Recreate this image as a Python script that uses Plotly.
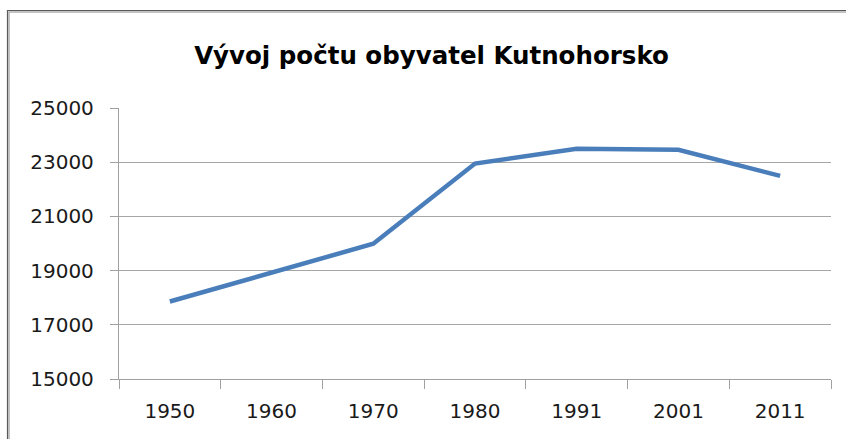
import plotly.graph_objects as go

years = ["1950", "1960", "1970", "1980", "1991", "2001", "2011"]
population = [17860, 18930, 19990, 22950, 23500, 23455, 22495]
y_ticks = [15000, 17000, 19000, 21000, 23000, 25000]
title_text = "Vývoj počtu obyvatel Kutnohorsko"

W, H = 846, 439
L, R, T, B = 119, 15, 108, 60
pw, ph = W - L - R, H - T - B

def px(x):
    return (x - L) / pw

def py(y):
    return (H - B - y) / ph

fig = go.Figure()
fig.add_trace(go.Scatter(
    x=years, y=population, mode="lines",
    line=dict(color="#4a7ebb", width=4.5),
    showlegend=False, hoverinfo="x+y",
))

fig.update_layout(
    width=W, height=H,
    margin=dict(l=L, r=R, t=T, b=B),
    paper_bgcolor="white", plot_bgcolor="white",
    title=dict(text=f"<b>{title_text}</b>", x=431.5 / W, xanchor="center",
               y=1 - 55 / H, yanchor="middle", yref="container",
               font=dict(family="DejaVu Sans", size=24.5, color="#000000")),
    font=dict(family="DejaVu Sans", size=20, color="#1a1a1a"),
    xaxis=dict(type="category", range=[-0.5, len(years) - 0.5], tickson="boundaries",
               ticks="outside", ticklen=9, ticklabelstandoff=14,
               tickcolor="#a0a0a0", tickwidth=1.3, showline=True, linecolor="#a0a0a0",
               linewidth=1.3, showgrid=False, zeroline=False, fixedrange=True,
               tickfont=dict(size=20)),
    yaxis=dict(range=[15000, 25000], tickvals=y_ticks, tickformat="d",
               ticks="outside", ticklen=8, ticklabelstandoff=12,
               tickcolor="#a0a0a0", tickwidth=1.3, showline=True, linecolor="#a0a0a0",
               linewidth=1.3, showgrid=True, gridcolor="#a6a6a6", gridwidth=1.3,
               zeroline=False, fixedrange=True, tickfont=dict(size=20)),
    shapes=[
        dict(type="rect", xref="paper", yref="paper",
             x0=px(7.5), x1=px(860), y0=py(460), y1=py(10.5),
             line=dict(color="#5a5a5a", width=1.2), fillcolor="rgba(0,0,0,0)"),
        dict(type="rect", xref="paper", yref="paper",
             x0=px(9), x1=px(860), y0=py(460), y1=py(12),
             line=dict(color="#b0b0b0", width=1.5), fillcolor="rgba(0,0,0,0)"),
    ],
)

fig.write_html("out.html", config={"displayModeBar": False},
               post_script="document.body.style.margin='0';")
